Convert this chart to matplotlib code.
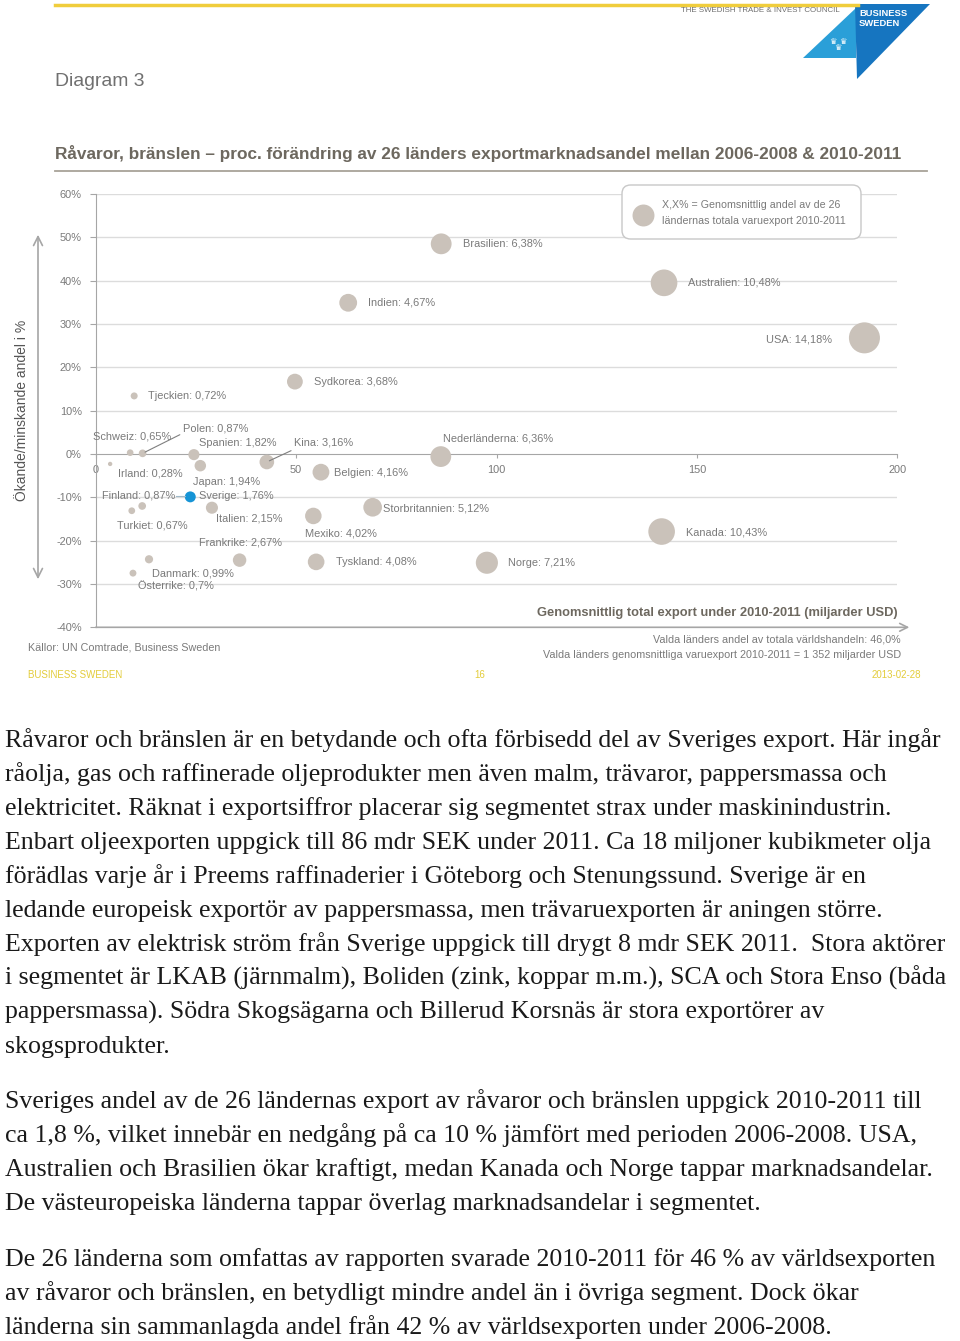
import numpy as np
import matplotlib
matplotlib.use("Agg")
import matplotlib.pyplot as plt
from matplotlib import font_manager
from matplotlib.patches import FancyBboxPatch, Polygon, FancyArrowPatch
from matplotlib.lines import Line2D

# ---------------- data ----------------
countries = ["Brasilien", "Indien", "Sydkorea", "Tjeckien", "Australien", "USA",
             "Schweiz", "Polen", "Spanien", "Japan", "Kina", "Belgien",
             "Nederländerna", "Irland", "Sverige", "Finland", "Turkiet", "Italien",
             "Storbritannien", "Mexiko", "Kanada", "Frankrike", "Tyskland", "Norge",
             "Danmark", "Österrike"]
export_bn = [86.2, 63.0, 49.7, 9.6, 141.8, 191.8,
             8.6, 11.7, 24.5, 26.1, 42.7, 56.2,
             86.1, 3.6, 23.6, 11.6, 9.0, 29.0,
             69.1, 54.3, 141.2, 35.9, 55.0, 97.6,
             13.3, 9.3]
share_change = [48.5, 34.9, 16.7, 13.4, 39.5, 26.8,
                0.3, 0.15, -0.15, -2.7, -1.85, -4.2,
                -0.6, -2.3, -9.9, -12.0, -13.1, -12.4,
                -12.3, -14.3, -17.9, -24.5, -24.9, -25.1,
                -24.3, -27.5]
avg_share = [6.38, 4.67, 3.68, 0.72, 10.48, 14.18,
             0.65, 0.87, 1.82, 1.94, 3.16, 4.16,
             6.36, 0.28, 1.76, 0.87, 0.67, 2.15,
             5.12, 4.02, 10.43, 2.67, 4.08, 7.21,
             0.99, 0.7]
x_ticks = [0, 50, 100, 150, 200]
y_ticks = [-40, -30, -20, -10, 0, 10, 20, 30, 40, 50, 60]

# label layout (pixel offsets from bubble centre, alignment)
label_layout = {
    "Brasilien": (22, 0, "left"), "Indien": (20, 0, "left"), "Sydkorea": (19, 0, "left"),
    "Tjeckien": (14, 0, "left"), "Australien": (24, 0, "left"), "USA": (-32, -2, "right"),
    "Schweiz": (2, 16, "center"), "Polen": (40, 25, "left"), "Spanien": (5, 12, "left"),
    "Japan": (-7, -16, "left"), "Kina": (27, 19, "left"), "Belgien": (13, -1, "left"),
    "Nederländerna": (2, 18, "left"), "Irland": (8, -10, "left"), "Sverige": (9, 1, "left"),
    "Finland": (-40, 10, "left"), "Turkiet": (-15, -15, "left"), "Italien": (4, -11, "left"),
    "Storbritannien": (10, -1, "left"), "Mexiko": (-8, -18, "left"), "Kanada": (24, -1, "left"),
    "Frankrike": (-41, 18, "left"), "Tyskland": (20, 0, "left"), "Norge": (21, 0, "left"),
    "Danmark": (3, -14, "left"), "Österrike": (5, -13, "left"),
}
leaders = {"Polen": (0.0, 0.0), "Kina": (0.05, 0.0)}

body_p1 = [
    "Råvaror och bränslen är en betydande och ofta förbisedd del av Sveriges export. Här ingår",
    "råolja, gas och raffinerade oljeprodukter men även malm, trävaror, pappersmassa och",
    "elektricitet. Räknat i exportsiffror placerar sig segmentet strax under maskinindustrin.",
    "Enbart oljeexporten uppgick till 86 mdr SEK under 2011. Ca 18 miljoner kubikmeter olja",
    "förädlas varje år i Preems raffinaderier i Göteborg och Stenungssund. Sverige är en",
    "ledande europeisk exportör av pappersmassa, men trävaruexporten är aningen större.",
    "Exporten av elektrisk ström från Sverige uppgick till drygt 8 mdr SEK 2011.  Stora aktörer",
    "i segmentet är LKAB (järnmalm), Boliden (zink, koppar m.m.), SCA och Stora Enso (båda",
    "pappersmassa). Södra Skogsägarna och Billerud Korsnäs är stora exportörer av",
    "skogsprodukter.",
]
body_p2 = [
    "Sveriges andel av de 26 ländernas export av råvaror och bränslen uppgick 2010-2011 till",
    "ca 1,8 %, vilket innebär en nedgång på ca 10 % jämfört med perioden 2006-2008. USA,",
    "Australien och Brasilien ökar kraftigt, medan Kanada och Norge tappar marknadsandelar.",
    "De västeuropeiska länderna tappar överlag marknadsandelar i segmentet.",
]
body_p3 = [
    "De 26 länderna som omfattas av rapporten svarade 2010-2011 för 46 % av världsexporten",
    "av råvaror och bränslen, en betydligt mindre andel än i övriga segment. Dock ökar",
    "länderna sin sammanlagda andel från 42 % av världsexporten under 2006-2008.",
]

# ---------------- setup ----------------
W, H = 960, 1341
fig = plt.figure(figsize=(W / 100, H / 100), dpi=100)
fig.patch.set_facecolor("white")
renderer = fig.canvas.get_renderer()

names = {f.name for f in font_manager.fontManager.ttflist}
NARROW = "Liberation Sans Narrow" if "Liberation Sans Narrow" in names else "Liberation Sans"
SERIF = "Liberation Serif" if "Liberation Serif" in names else "DejaVu Serif"


def fx(x):
    return x / W


def fy(y):
    return 1 - y / H


def fit_size(text, width_px, family, weight="normal", base=10.0):
    t = fig.text(0, 0, text, fontsize=base, family=family, weight=weight)
    w = t.get_window_extent(renderer=renderer).width
    t.remove()
    return base * width_px / w


GREY_TXT = "#7a7a7a"
AXIS_GREY = "#a6a6a6"
GRID_GREY = "#dcdcdc"
BUBBLE = "#cac2ba"
BLUE = "#1694d6"
YELLOW = "#f0cd3c"

lab_fs = fit_size("Brasilien: 6,38%", 80, NARROW)

# ---------------- header ----------------
fig.add_artist(Line2D([fx(55), fx(858)], [fy(5), fy(5)], color=YELLOW, lw=2.5,
                      transform=fig.transFigure))
fig.text(fx(840), fy(11), "THE SWEDISH TRADE & INVEST COUNCIL", ha="right", va="center",
         family=NARROW, color="#6f6f6f",
         fontsize=fit_size("THE SWEDISH TRADE & INVEST COUNCIL", 160, NARROW))
# logo
fig.add_artist(Polygon([(fx(803), fy(58)), (fx(856), fy(8)), (fx(856), fy(58))],
                       closed=True, facecolor="#2a9fd8", edgecolor="none",
                       transform=fig.transFigure))
fig.add_artist(Polygon([(fx(855), fy(4)), (fx(930), fy(4)), (fx(857), fy(79))],
                       closed=True, facecolor="#1675c0", edgecolor="none",
                       transform=fig.transFigure))
fig.text(fx(859), fy(14), "BUSINESS", ha="left", va="center", color="white",
         weight="bold", family=NARROW, fontsize=fit_size("BUSINESS", 48, NARROW, "bold"))
fig.text(fx(859), fy(24), "SWEDEN", ha="left", va="center", color="white",
         weight="bold", family=NARROW, fontsize=fit_size("BUSINESS", 48, NARROW, "bold"))
for cx, cy in [(833, 41), (843, 41), (838, 48)]:
    fig.text(fx(cx), fy(cy), "♛", ha="center", va="center", color="white", fontsize=6,
             family="DejaVu Sans")

fig.text(fx(55), fy(81), "Diagram 3", ha="left", va="center", family=NARROW,
         color="#707070", fontsize=fit_size("Diagram 3", 90, NARROW))
title = ("Råvaror, bränslen – proc. förändring av 26 länders exportmarknadsandel "
         "mellan 2006-2008 & 2010-2011")
fig.text(fx(55), fy(153), title, ha="left", va="center", family=NARROW, weight="bold",
         color="#6d685f", fontsize=fit_size(title, 846, NARROW, "bold"))
fig.add_artist(Line2D([fx(55), fx(927)], [fy(170.5), fy(170.5)], color="#a8a298", lw=1.3,
                      transform=fig.transFigure))

# ---------------- chart ----------------
ax = fig.add_axes([fx(95.7), fy(627.3), (897.3 - 95.7) / W, (627.3 - 194) / H])
ax.set_xlim(0, 200)
ax.set_ylim(-40, 60)
ax.set_facecolor("none")
for s in ["top", "right"]:
    ax.spines[s].set_visible(False)
ax.spines["bottom"].set_position(("data", 0))
ax.spines["bottom"].set_color(AXIS_GREY)
ax.spines["left"].set_color(AXIS_GREY)
ax.spines["bottom"].set_zorder(1)
ax.set_xticks(x_ticks)
ax.set_xticklabels([str(v) for v in x_ticks])
ax.set_yticks(y_ticks)
ax.set_yticklabels([f"{v}%" for v in y_ticks])
ax.tick_params(axis="x", direction="out", length=3, color=AXIS_GREY, pad=5,
               labelsize=lab_fs, labelcolor=GREY_TXT)
ax.tick_params(axis="y", direction="out", length=4, color=AXIS_GREY, pad=6,
               labelsize=lab_fs, labelcolor=GREY_TXT)
for lbl in ax.get_xticklabels() + ax.get_yticklabels():
    lbl.set_family(NARROW)
for v in y_ticks:
    if v not in (0, -40):
        ax.axhline(v, color=GRID_GREY, lw=1.0, zorder=0)

ax.annotate("", xy=(203, -40), xytext=(0, -40), annotation_clip=False,
            arrowprops=dict(arrowstyle="->", color=AXIS_GREY, lw=1.2,
                            shrinkA=0, shrinkB=0, mutation_scale=14))

sizes = [(2 * 4.12 * np.sqrt(v) * 0.72) ** 2 for v in avg_share]
colors = [BLUE if c == "Sverige" else BUBBLE for c in countries]
ax.scatter(export_bn, share_change, s=sizes, c=colors, edgecolors="none", zorder=3,
           clip_on=False)

for c, xv, yv, v in zip(countries, export_bn, share_change, avg_share):
    dx, dy, ha = label_layout[c]
    txt = f"{c}: {str(v).replace('.', ',')}%"
    kw = {}
    if c in leaders:
        kw["arrowprops"] = dict(arrowstyle="-", color="#7f7f7f", lw=0.8,
                                shrinkA=0, shrinkB=2, relpos=leaders[c])
    ax.annotate(txt, xy=(xv, yv), xytext=(dx, dy), textcoords="offset pixels",
                ha=ha, va="center", family=NARROW, fontsize=lab_fs, color=GREY_TXT,
                zorder=4, annotation_clip=False, **kw)

fig.add_artist(Line2D([fx(176), fx(185)], [fy(496), fy(496)], color="#9fb8c8", lw=0.8,
                      transform=fig.transFigure))

# legend box
fig.add_artist(FancyBboxPatch((fx(622), fy(239)), fx(861) - fx(622), fy(185) - fy(239),
                              boxstyle="round,pad=0,rounding_size=0.009",
                              mutation_aspect=W / H,
                              facecolor="white", edgecolor="#c8c8c8", lw=1.0,
                              transform=fig.transFigure, zorder=5))
fig.add_artist(Line2D([fx(642.7)], [fy(215)], marker="o", markersize=15.8, color=BUBBLE,
                      markeredgecolor="none", transform=fig.transFigure, zorder=6))
leg_fs = fit_size("X,X% = Genomsnittlig andel av de 26", 178, NARROW)
fig.text(fx(662), fy(205), "X,X% = Genomsnittlig andel av de 26", ha="left", va="center",
         family=NARROW, fontsize=leg_fs, color=GREY_TXT, zorder=6)
fig.text(fx(662), fy(221), "ländernas totala varuexport 2010-2011", ha="left", va="center",
         family=NARROW, fontsize=leg_fs, color=GREY_TXT, zorder=6)

# y-axis label + arrow
fig.add_artist(FancyArrowPatch((fx(38), fy(582)), (fx(38), fy(232)), arrowstyle="<->",
                               mutation_scale=16, color=AXIS_GREY, lw=1.2,
                               transform=fig.transFigure))
ylab = "Ökande/minskande andel i %"
fig.text(fx(22), fy(410), ylab, rotation=90, ha="center", va="center", family=NARROW,
         color="#555555", fontsize=fit_size(ylab, 182, NARROW))

xlab = "Genomsnittlig total export under 2010-2011 (miljarder USD)"
fig.text(fx(898), fy(613), xlab, ha="right", va="center", family=NARROW, weight="bold",
         color="#6d685f", fontsize=fit_size(xlab, 364, NARROW, "bold"))
n2 = "Valda länders genomsnittliga varuexport 2010-2011 = 1 352 miljarder USD"
n_fs = fit_size(n2, 355, NARROW)
fig.text(fx(901), fy(639), "Valda länders andel av totala världshandeln: 46,0%", ha="right",
         va="center", family=NARROW, color=GREY_TXT, fontsize=n_fs)
fig.text(fx(901), fy(655), n2, ha="right", va="center", family=NARROW, color=GREY_TXT,
         fontsize=n_fs)
src = "Källor: UN Comtrade, Business Sweden"
fig.text(fx(28), fy(648), src, ha="left", va="center", family=NARROW, color=GREY_TXT,
         fontsize=fit_size(src, 191, NARROW))

foot_fs = fit_size("BUSINESS SWEDEN", 95, NARROW)
fig.text(fx(28), fy(675), "BUSINESS SWEDEN", ha="left", va="center", family=NARROW,
         color="#e3cc3a", fontsize=foot_fs)
fig.text(fx(480), fy(675), "16", ha="center", va="center", family=NARROW,
         color="#e3cc3a", fontsize=foot_fs)
fig.text(fx(921), fy(675), "2013-02-28", ha="right", va="center", family=NARROW,
         color="#e3cc3a", fontsize=foot_fs)

# ---------------- body text ----------------
body_fs = min(fit_size(body_p1[0], 950, SERIF),
              fit_size(body_p1[6], 944, SERIF),
              fit_size(body_p1[7], 948, SERIF),
              fit_size(body_p2[2], 950, SERIF))
for start, lines in [(747, body_p1), (1108, body_p2), (1266, body_p3)]:
    for i, line in enumerate(lines):
        fig.text(fx(5), fy(start + 34 * i), line, ha="left", va="baseline", family=SERIF,
                 fontsize=body_fs, color="#1a1a1a")

fig.savefig("out.png", dpi=100, facecolor="white")
